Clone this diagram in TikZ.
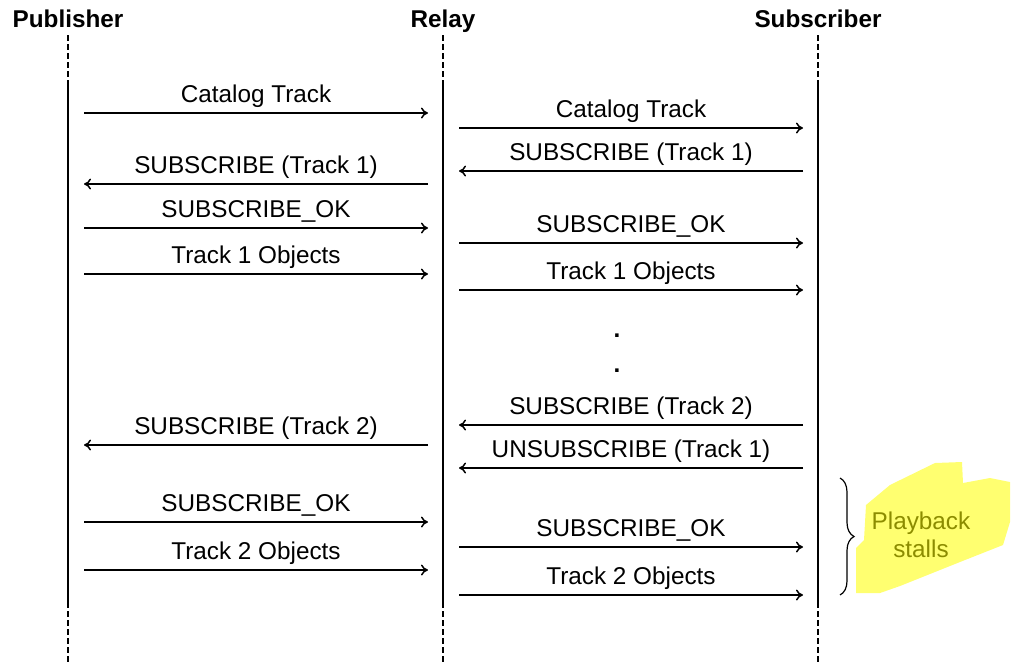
\documentclass[tikz,border=0pt]{standalone}
\usepackage{fontspec}
\setmainfont{Liberation Sans}
\usetikzlibrary{arrows.meta,decorations.pathreplacing}
\definecolor{blob}{HTML}{FFFF70}
\definecolor{olive}{HTML}{8C8C00}
\tikzset{
  msg/.style={line width=1.9pt,-{To[length=7pt,width=11pt,line width=1.5pt]}},
  lbl/.style={anchor=base,yshift=11pt,inner sep=0pt,font=\fontsize{24.3}{28}\selectfont},
  dotlbl/.style={anchor=base,inner sep=0pt,font=\fontsize{24.3}{28}\selectfont\bfseries},
  head/.style={anchor=base,inner sep=0pt,font=\fontsize{24.3}{28}\selectfont\bfseries},
  life/.style={line width=2.4pt},
  lifedash/.style={line width=2.4pt,dash pattern=on 6pt off 3pt},
}
\newcommand\msgline[5]{%
  \coordinate (#1s) at (#3,#2);
  \coordinate (#1e) at (#4,#2);
  \draw[msg] (#1s) -- node[lbl]{#5} (#1e);}
\begin{document}
\begin{tikzpicture}[x=1pt,y=-1pt]
\useasboundingbox (0,0) rectangle (1012,665);
% yellow highlight
\fill[blob] (856,593) -- (856,548) -- (864,540) -- (866,505) -- (890,485) -- (935,463) -- (962,462) -- (963,483) -- (990,478) -- (1010,482) -- (1010,522) -- (1003,545) -- (960,562) -- (900,586) -- (880,593) -- cycle;
% headers
\node[head] (pub) at (68,27) {Publisher};
\node[head] (rel) at (443,27) {Relay};
\node[head] (sub) at (818,27) {Subscriber};
% lifelines
\foreach \n/\x in {p/68,r/443,s/818}{
  \coordinate (\n1) at (\x,35);
  \coordinate (\n2) at (\x,86);
  \coordinate (\n3) at (\x,602);
  \coordinate (\n4) at (\x,662);
  \draw[lifedash] (\n1) -- (\n2);
  \draw[life] (\n2) -- (\n3);
  \draw[lifedash] (\n3) -- (\n4);
}
% publisher <-> relay
\msgline{a1}{113}{84}{428}{Catalog Track}
\msgline{a2}{184}{428}{84}{SUBSCRIBE (Track 1)}
\msgline{a3}{228}{84}{428}{SUBSCRIBE\_OK}
\msgline{a4}{274}{84}{428}{Track 1 Objects}
\msgline{a5}{445}{428}{84}{SUBSCRIBE (Track 2)}
\msgline{a6}{522}{84}{428}{SUBSCRIBE\_OK}
\msgline{a7}{570}{84}{428}{Track 2 Objects}
% relay <-> subscriber
\msgline{b1}{128}{459}{803}{Catalog Track}
\msgline{b2}{171}{803}{459}{SUBSCRIBE (Track 1)}
\msgline{b3}{243}{459}{803}{SUBSCRIBE\_OK}
\msgline{b4}{290}{459}{803}{Track 1 Objects}
\msgline{b5}{425}{803}{459}{SUBSCRIBE (Track 2)}
\msgline{b6}{468}{803}{459}{UNSUBSCRIBE (Track 1)}
\msgline{b7}{547}{459}{803}{SUBSCRIBE\_OK}
\msgline{b8}{595}{459}{803}{Track 2 Objects}
% dots
\node[dotlbl] (d1) at (617,337) {.};
\node[dotlbl] (d2) at (617,372) {.};
% brace
\coordinate (bt) at (840,478);
\coordinate (bb) at (840,595);
\draw[line width=1.2pt,decorate,decoration={brace,amplitude=14pt}] (bt) -- (bb);
\node[align=center,inner sep=0pt,text=olive,font=\fontsize{24.3}{28}\selectfont] (stall) at (921,535) {Playback\\stalls};
\end{tikzpicture}
\end{document}
